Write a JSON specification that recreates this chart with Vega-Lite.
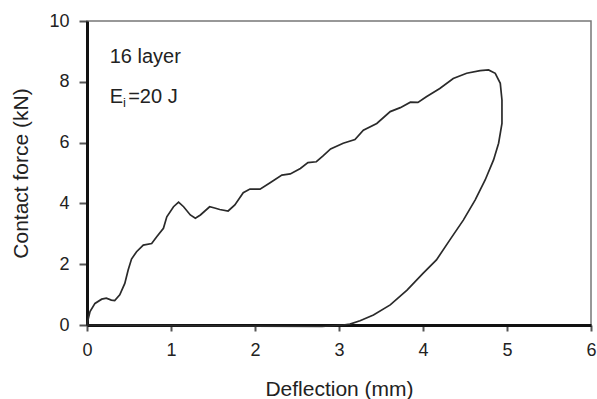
{
  "$schema": "https://vega.github.io/schema/vega-lite/v6.json",
  "width": 504,
  "height": 304,
  "autosize": {"type": "none"},
  "padding": {"left": 87, "top": 21, "right": 6, "bottom": 74},
  "background": "white",
  "config": {
    "view": {"stroke": "#777", "strokeWidth": 1.5},
    "font": "Liberation Sans",
    "axis": {"grid": false}
  },
  "layer": [
    {
      "data": {"values": [
        {"i":0,"d":0,"f":0},{"i":1,"d":0.01,"f":0.15},{"i":2,"d":0.036,"f":0.44},{"i":3,"d":0.095,"f":0.71},
        {"i":4,"d":0.175,"f":0.85},{"i":5,"d":0.23,"f":0.88},{"i":6,"d":0.29,"f":0.82},{"i":7,"d":0.33,"f":0.8},
        {"i":8,"d":0.39,"f":0.99},{"i":9,"d":0.45,"f":1.37},{"i":10,"d":0.49,"f":1.81},{"i":11,"d":0.53,"f":2.17},
        {"i":12,"d":0.59,"f":2.41},{"i":13,"d":0.67,"f":2.63},{"i":14,"d":0.77,"f":2.68},{"i":15,"d":0.83,"f":2.9},
        {"i":16,"d":0.91,"f":3.18},{"i":17,"d":0.95,"f":3.56},{"i":18,"d":1.03,"f":3.89},{"i":19,"d":1.09,"f":4.04},
        {"i":20,"d":1.15,"f":3.89},{"i":21,"d":1.23,"f":3.62},{"i":22,"d":1.29,"f":3.51},{"i":23,"d":1.35,"f":3.62},
        {"i":24,"d":1.46,"f":3.89},{"i":25,"d":1.52,"f":3.85},{"i":26,"d":1.58,"f":3.8},{"i":27,"d":1.68,"f":3.75},
        {"i":28,"d":1.76,"f":3.95},{"i":29,"d":1.86,"f":4.35},{"i":30,"d":1.94,"f":4.47},{"i":31,"d":2.06,"f":4.47},
        {"i":32,"d":2.18,"f":4.68},{"i":33,"d":2.32,"f":4.93},{"i":34,"d":2.42,"f":4.97},{"i":35,"d":2.54,"f":5.15},
        {"i":36,"d":2.63,"f":5.34},{"i":37,"d":2.73,"f":5.37},{"i":38,"d":2.81,"f":5.56},{"i":39,"d":2.9,"f":5.79},
        {"i":40,"d":3.05,"f":5.98},{"i":41,"d":3.19,"f":6.1},{"i":42,"d":3.29,"f":6.41},{"i":43,"d":3.45,"f":6.63},
        {"i":44,"d":3.61,"f":7.02},{"i":45,"d":3.73,"f":7.15},{"i":46,"d":3.85,"f":7.33},{"i":47,"d":3.94,"f":7.32},
        {"i":48,"d":4.04,"f":7.51},{"i":49,"d":4.2,"f":7.78},{"i":50,"d":4.36,"f":8.11},{"i":51,"d":4.52,"f":8.28},
        {"i":52,"d":4.68,"f":8.37},{"i":53,"d":4.78,"f":8.39},{"i":54,"d":4.86,"f":8.28},{"i":55,"d":4.92,"f":7.95},
        {"i":56,"d":4.94,"f":7.4},{"i":57,"d":4.94,"f":6.63},{"i":58,"d":4.9,"f":5.98},{"i":59,"d":4.84,"f":5.43},
        {"i":60,"d":4.74,"f":4.77},
        {"i":64,"d":4.62,"f":4.11},{"i":65,"d":4.48,"f":3.45},{"i":66,"d":4.32,"f":2.8},{"i":67,"d":4.16,"f":2.14},
        {"i":68,"d":4.0,"f":1.7},{"i":69,"d":3.81,"f":1.15},{"i":70,"d":3.61,"f":0.66},{"i":71,"d":3.41,"f":0.33},
        {"i":72,"d":3.25,"f":0.14},{"i":73,"d":3.13,"f":0.03},{"i":74,"d":3.05,"f":0},{"i":75,"d":2.8,"f":-0.05},
        {"i":76,"d":0,"f":0}
      ]},
      "mark": {"type": "line", "color": "#2a2a2a", "strokeWidth": 1.7, "clip": false},
      "encoding": {
        "x": {"field": "d", "type": "quantitative", "scale": {"domain": [0, 6], "nice": false, "zero": false},
          "axis": {"title": "Deflection (mm)", "values": [0,1,2,3,4,5,6], "format": "d", "labelFlush": false, "domainColor": "#111", "domainWidth": 3,
            "tickColor": "#555", "tickWidth": 2, "tickSize": 6, "labelFontSize": 18, "labelColor": "#222", "labelPadding": 10,
            "titleFontSize": 21, "titleFontWeight": "normal", "titleColor": "#222", "titlePadding": 19}},
        "y": {"field": "f", "type": "quantitative", "scale": {"domain": [0, 10], "nice": false, "zero": false},
          "axis": {"title": "Contact force (kN)", "values": [0,2,4,6,8,10], "format": "d", "labelFlush": false, "domainColor": "#111", "domainWidth": 3,
            "tickColor": "#555", "tickWidth": 2, "tickSize": 8, "labelFontSize": 18, "labelColor": "#222", "labelPadding": 10,
            "titleFontSize": 21, "titleFontWeight": "normal", "titleColor": "#222", "titlePadding": 17}},
        "order": {"field": "i", "type": "quantitative"}
      }
    },
    {
      "data": {"values": [
        {"t": "16 layer", "d": 0.27, "f": 8.62},
        {"t": "E", "d": 0.27, "f": 7.3},
        {"t": "=20 J", "d": 0.49, "f": 7.3}
      ]},
      "mark": {"type": "text", "align": "left", "baseline": "alphabetic", "fontSize": 20, "color": "#222"},
      "encoding": {
        "x": {"field": "d", "type": "quantitative"},
        "y": {"field": "f", "type": "quantitative"},
        "text": {"field": "t"}
      }
    },
    {
      "data": {"values": [{"t": "i", "d": 0.43, "f": 7.18}]},
      "mark": {"type": "text", "align": "left", "baseline": "alphabetic", "fontSize": 13, "color": "#222"},
      "encoding": {
        "x": {"field": "d", "type": "quantitative"},
        "y": {"field": "f", "type": "quantitative"},
        "text": {"field": "t"}
      }
    }
  ]
}
